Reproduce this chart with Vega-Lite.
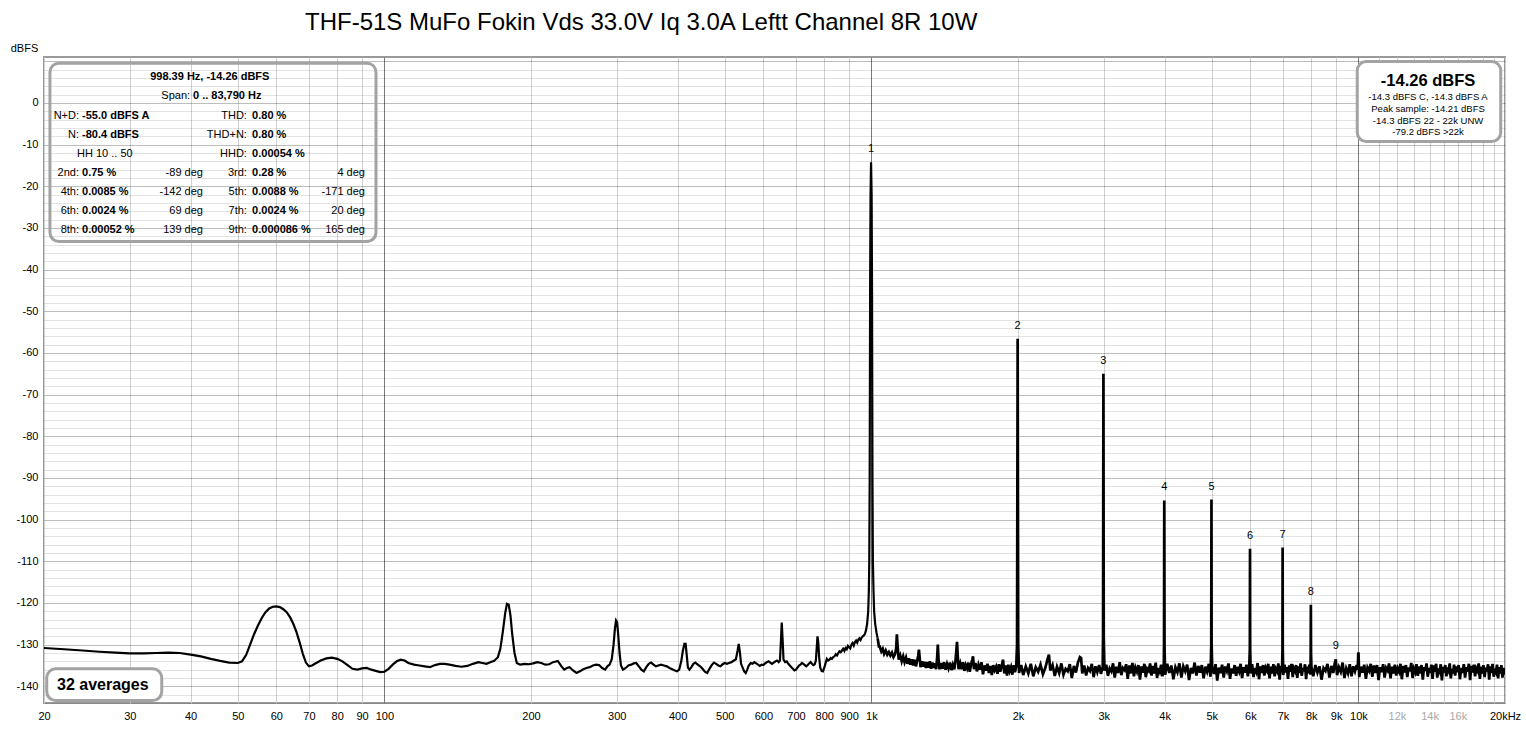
{
"$schema": "https://vega.github.io/schema/vega-lite/v6.json",
"width": 1461, "height": 646,
"autosize": {"type": "none"},
"padding": {"left": 44, "top": 57, "right": 21, "bottom": 26},
"background": "white",
"config": {"font": "Liberation Sans", "view": {"stroke": "#9a9a9a", "strokeWidth": 2}},
"title": {"text": "THF-51S MuFo Fokin Vds 33.0V Iq 3.0A Leftt Channel 8R 10W", "anchor": "start", "frame": "group", "dx": 261, "fontSize": 24, "fontWeight": "normal", "color": "#000000", "font": "Liberation Sans", "offset": 7},
"datasets": {
"spec": [
{"f":20,"d":-130.8},{"f":22,"d":-131.1},{"f":24,"d":-131.4},{"f":26,"d":-131.7},{"f":28,"d":-131.9},{"f":30,"d":-132.1},{"f":32,"d":-132.1},{"f":34,"d":-132.0},{"f":36,"d":-131.9},{"f":38,"d":-132.0},{"f":40,"d":-132.4},{"f":42,"d":-132.8},{"f":44,"d":-133.4},{"f":46,"d":-133.9},{"f":48,"d":-134.3},{"f":50,"d":-134.4},{"f":51,"d":-134.0},{"f":52,"d":-132.5},{"f":53,"d":-130.0},{"f":54,"d":-127.5},{"f":55,"d":-125.4},{"f":56,"d":-123.6},{"f":57,"d":-122.2},{"f":58,"d":-121.3},{"f":59,"d":-120.9},{"f":60,"d":-120.8},{"f":61,"d":-121.0},{"f":62,"d":-121.5},{"f":63,"d":-122.2},{"f":64,"d":-123.4},{"f":65,"d":-125.0},{"f":66,"d":-127.0},{"f":67,"d":-129.5},{"f":68,"d":-132.2},{"f":69,"d":-134.3},{"f":70,"d":-135.2},{"f":71,"d":-135.0},{"f":72,"d":-134.6},{"f":74,"d":-133.8},{"f":76,"d":-133.3},{"f":78,"d":-133.1},{"f":80,"d":-133.4},{"f":82,"d":-134.0},{"f":84,"d":-134.9},{"f":86,"d":-135.8},{"f":88,"d":-136.0},{"f":90,"d":-135.7},{"f":92,"d":-135.6},{"f":94,"d":-136.0},{"f":96,"d":-136.3},{"f":98,"d":-136.6},{"f":100,"d":-136.5},{"f":102,"d":-135.8},{"f":104,"d":-134.8},{"f":106,"d":-134.0},{"f":108,"d":-133.6},{"f":110,"d":-133.8},{"f":112,"d":-134.4},{"f":115,"d":-134.8},{"f":118,"d":-135.0},{"f":121,"d":-135.2},{"f":124,"d":-135.4},{"f":127,"d":-134.9},{"f":130,"d":-134.6},{"f":133,"d":-134.6},{"f":136,"d":-134.8},{"f":140,"d":-135.1},{"f":144,"d":-135.3},{"f":148,"d":-135.1},{"f":152,"d":-134.6},{"f":156,"d":-134.2},{"f":159,"d":-134.4},{"f":162,"d":-134.6},{"f":165,"d":-134.2},{"f":168,"d":-133.9},{"f":171,"d":-133.0},{"f":173,"d":-131.0},{"f":175,"d":-127.0},{"f":177,"d":-122.5},{"f":178.5,"d":-120.2},{"f":180,"d":-120.4},{"f":181.5,"d":-123.0},{"f":183,"d":-127.5},{"f":185,"d":-132.0},{"f":187,"d":-134.4},{"f":190,"d":-134.8},{"f":194,"d":-134.6},{"f":198,"d":-134.7},{"f":202,"d":-134.5},{"f":206,"d":-134.2},{"f":210,"d":-134.4},{"f":214,"d":-134.8},{"f":218,"d":-134.7},{"f":222,"d":-134.2},{"f":227,"d":-133.9},{"f":231,"d":-135.2},{"f":234,"d":-136.0},{"f":237,"d":-135.6},{"f":240,"d":-135.4},{"f":244,"d":-136.2},{"f":248,"d":-136.8},{"f":252,"d":-136.4},{"f":256,"d":-135.9},{"f":260,"d":-135.6},{"f":264,"d":-135.4},{"f":268,"d":-135.0},{"f":272,"d":-134.8},{"f":276,"d":-134.9},{"f":280,"d":-135.6},{"f":284,"d":-136.0},{"f":287,"d":-135.2},{"f":290,"d":-134.8},{"f":293,"d":-133.5},{"f":295.5,"d":-130.0},{"f":297.5,"d":-126.0},{"f":299,"d":-124.2},{"f":300.5,"d":-124.6},{"f":302,"d":-127.5},{"f":304,"d":-132.0},{"f":306,"d":-135.0},{"f":309,"d":-136.0},{"f":313,"d":-135.6},{"f":317,"d":-135.0},{"f":321,"d":-134.8},{"f":325,"d":-134.5},{"f":329,"d":-134.4},{"f":333,"d":-135.2},{"f":337,"d":-136.0},{"f":341,"d":-136.4},{"f":345,"d":-135.4},{"f":349,"d":-134.6},{"f":353,"d":-134.3},{"f":357,"d":-134.8},{"f":361,"d":-135.2},{"f":365,"d":-135.0},{"f":370,"d":-134.8},{"f":375,"d":-135.0},{"f":380,"d":-135.2},{"f":385,"d":-135.6},{"f":390,"d":-135.9},{"f":395,"d":-136.2},{"f":399,"d":-136.4},{"f":403,"d":-136.0},{"f":407,"d":-134.0},{"f":410,"d":-131.5},{"f":413,"d":-129.8},{"f":415.5,"d":-129.8},{"f":418,"d":-133.0},{"f":420,"d":-135.5},{"f":423,"d":-136.0},{"f":427,"d":-135.4},{"f":431,"d":-134.6},{"f":435,"d":-134.3},{"f":440,"d":-134.8},{"f":445,"d":-135.2},{"f":450,"d":-135.8},{"f":455,"d":-136.5},{"f":460,"d":-136.8},{"f":465,"d":-135.8},{"f":470,"d":-134.9},{"f":475,"d":-134.3},{"f":480,"d":-134.6},{"f":485,"d":-135.0},{"f":490,"d":-135.2},{"f":495,"d":-134.7},{"f":500,"d":-134.4},{"f":505,"d":-134.6},{"f":510,"d":-134.4},{"f":516,"d":-134.2},{"f":522,"d":-133.8},{"f":527,"d":-133.5},{"f":531,"d":-131.5},{"f":534,"d":-129.8},{"f":537,"d":-131.8},{"f":540,"d":-134.6},{"f":544,"d":-135.5},{"f":548,"d":-136.4},{"f":552,"d":-136.8},{"f":556,"d":-136.0},{"f":560,"d":-135.0},{"f":565,"d":-134.4},{"f":570,"d":-134.6},{"f":575,"d":-134.2},{"f":580,"d":-134.5},{"f":585,"d":-134.8},{"f":590,"d":-135.1},{"f":595,"d":-134.8},{"f":600,"d":-134.9},{"f":605,"d":-134.5},{"f":610,"d":-134.2},{"f":615,"d":-134.0},{"f":620,"d":-134.3},{"f":625,"d":-134.6},{"f":630,"d":-134.3},{"f":635,"d":-134.0},{"f":640,"d":-133.8},{"f":645,"d":-134.2},{"f":649,"d":-133.8},{"f":652,"d":-129.0},{"f":654.5,"d":-124.7},{"f":657,"d":-128.5},{"f":660,"d":-133.6},{"f":665,"d":-134.2},{"f":670,"d":-134.0},{"f":675,"d":-134.6},{"f":680,"d":-135.0},{"f":685,"d":-135.4},{"f":690,"d":-135.8},{"f":695,"d":-136.2},{"f":700,"d":-136.0},{"f":705,"d":-135.5},{"f":710,"d":-135.0},{"f":715,"d":-134.8},{"f":720,"d":-134.4},{"f":725,"d":-134.6},{"f":730,"d":-134.9},{"f":735,"d":-135.2},{"f":740,"d":-134.9},{"f":745,"d":-134.5},{"f":750,"d":-134.2},{"f":755,"d":-134.6},{"f":760,"d":-134.9},{"f":765,"d":-134.7},{"f":769,"d":-133.8},{"f":772,"d":-131.0},{"f":775,"d":-128.0},{"f":778,"d":-129.5},{"f":781,"d":-133.0},{"f":785,"d":-135.5},{"f":790,"d":-136.3},{"f":795,"d":-136.4},{"f":800,"d":-135.6},{"f":805,"d":-134.5},{"f":810,"d":-133.4},{"f":815,"d":-133.8},{"f":820,"d":-133.6},{"f":825,"d":-133.2},{"f":830,"d":-133.4},{"f":835,"d":-133.0},{"f":840,"d":-132.8},{"f":845,"d":-132.3},{"f":850,"d":-132.6},{"f":855,"d":-132.0},{"f":860,"d":-131.6},{"f":865,"d":-131.8},{"f":870,"d":-131.4},{"f":875,"d":-131.0},{"f":880,"d":-131.5},{"f":885,"d":-130.8},{"f":890,"d":-131.1},{"f":895,"d":-130.3},{"f":900,"d":-130.6},{"f":905,"d":-130.9},{"f":910,"d":-130.0},{"f":915,"d":-129.6},{"f":920,"d":-130.2},{"f":925,"d":-129.4},{"f":930,"d":-129.0},{"f":935,"d":-129.5},{"f":940,"d":-128.8},{"f":945,"d":-128.5},{"f":950,"d":-128.9},{"f":955,"d":-128.3},{"f":960,"d":-128.0},{"f":965,"d":-127.8},{"f":970,"d":-127.4},{"f":975,"d":-126.5},{"f":980,"d":-125.0},{"f":985,"d":-122.0},{"f":988,"d":-117.0},{"f":990,"d":-110.0},{"f":992,"d":-90.0},{"f":994,"d":-45.0},{"f":996,"d":-22.0},{"f":998.39,"d":-14.26},{"f":1001,"d":-22.0},{"f":1003,"d":-45.0},{"f":1005,"d":-90.0},{"f":1007,"d":-110.0},{"f":1010,"d":-117.0},{"f":1013,"d":-122.0},{"f":1018,"d":-125.0},{"f":1024,"d":-127.0},{"f":1030,"d":-128.5},
{"f":1036,"d":-130.4},{"f":1040,"d":-130.4},{"f":1048,"d":-131.6},{"f":1055,"d":-131.0},{"f":1062,"d":-132.2},{"f":1070,"d":-131.4},{"f":1078,"d":-132.4},{"f":1086,"d":-131.8},{"f":1094,"d":-132.6},{"f":1102,"d":-131.9},{"f":1110,"d":-133.0},{"f":1118,"d":-132.3},{"f":1124,"d":-131.0},{"f":1128,"d":-127.5},{"f":1132,"d":-130.5},{"f":1138,"d":-133.6},{"f":1146,"d":-132.6},{"f":1154,"d":-134.0},{"f":1162,"d":-132.8},{"f":1170,"d":-134.2},{"f":1178,"d":-133.1},{"f":1186,"d":-134.6},{"f":1194,"d":-133.3},{"f":1202,"d":-134.8},{"f":1210,"d":-133.5},{"f":1218,"d":-135.0},{"f":1226,"d":-133.6},{"f":1234,"d":-135.2},{"f":1242,"d":-133.8},{"f":1248,"d":-132.6},{"f":1252,"d":-131.2},{"f":1256,"d":-133.0},{"f":1262,"d":-135.4},{"f":1270,"d":-134.0},{"f":1278,"d":-135.3},{"f":1286,"d":-134.1},{"f":1294,"d":-135.6},{"f":1302,"d":-134.2},{"f":1310,"d":-135.5},{"f":1318,"d":-134.0},{"f":1326,"d":-135.8},{"f":1334,"d":-134.3},{"f":1342,"d":-135.6},{"f":1350,"d":-134.5},{"f":1358,"d":-135.9},{"f":1364,"d":-133.5},{"f":1369,"d":-130.0},{"f":1374,"d":-133.8},{"f":1380,"d":-135.9},{"f":1390,"d":-134.4},{"f":1400,"d":-135.8},{"f":1410,"d":-134.2},{"f":1420,"d":-136.0},{"f":1430,"d":-134.6},{"f":1440,"d":-135.7},{"f":1450,"d":-134.3},{"f":1460,"d":-136.1},{"f":1470,"d":-134.8},{"f":1480,"d":-135.9},{"f":1488,"d":-134.0},{"f":1494,"d":-131.5},{"f":1499,"d":-129.3},{"f":1504,"d":-132.5},{"f":1510,"d":-135.9},
{"f":1522,"d":-134.5},{"f":1532,"d":-135.9},{"f":1542,"d":-134.2},{"f":1552,"d":-136.3},{"f":1562,"d":-134.9},{"f":1572,"d":-135.7},{"f":1582,"d":-134.3},{"f":1592,"d":-136.5},{"f":1602,"d":-134.7},{"f":1612,"d":-133.5},{"f":1617,"d":-132.8},{"f":1624,"d":-135.9},{"f":1635,"d":-134.4},{"f":1647,"d":-136.4},{"f":1659,"d":-134.8},{"f":1671,"d":-136.0},{"f":1683,"d":-134.2},{"f":1695,"d":-137.1},{"f":1707,"d":-135.0},{"f":1719,"d":-136.2},{"f":1731,"d":-134.6},{"f":1743,"d":-136.8},{"f":1755,"d":-135.1},{"f":1767,"d":-137.3},{"f":1779,"d":-134.9},{"f":1791,"d":-136.1},{"f":1803,"d":-135.3},{"f":1815,"d":-137.0},{"f":1827,"d":-134.7},{"f":1839,"d":-136.5},{"f":1851,"d":-135.2},{"f":1863,"d":-133.6},{"f":1875,"d":-136.9},{"f":1887,"d":-135.0},{"f":1899,"d":-137.4},{"f":1911,"d":-134.8},{"f":1923,"d":-136.3},{"f":1935,"d":-135.4},{"f":1947,"d":-137.2},{"f":1959,"d":-134.9},{"f":1971,"d":-136.6},{"f":1983,"d":-135.3},{"f":1991,"d":-130.0},{"f":1996.8,"d":-56.6},{"f":2002,"d":-130.0},
{"f":2010,"d":-136.8},{"f":2030,"d":-134.9},{"f":2050,"d":-137.3},{"f":2075,"d":-135.2},{"f":2100,"d":-136.9},{"f":2125,"d":-134.6},{"f":2150,"d":-137.6},{"f":2175,"d":-135.4},{"f":2200,"d":-136.5},{"f":2225,"d":-134.8},{"f":2250,"d":-137.1},{"f":2275,"d":-135.6},{"f":2300,"d":-133.5},{"f":2315,"d":-132.4},{"f":2330,"d":-136.2},{"f":2355,"d":-134.9},{"f":2380,"d":-137.5},{"f":2405,"d":-135.3},{"f":2430,"d":-136.8},{"f":2455,"d":-134.5},{"f":2480,"d":-137.2},{"f":2505,"d":-135.8},{"f":2530,"d":-136.4},{"f":2555,"d":-134.7},{"f":2580,"d":-138.0},{"f":2605,"d":-135.1},{"f":2630,"d":-136.7},{"f":2655,"d":-134.3},{"f":2680,"d":-133.0},{"f":2695,"d":-133.2},{"f":2710,"d":-136.9},{"f":2735,"d":-135.0},{"f":2760,"d":-137.4},{"f":2785,"d":-135.6},{"f":2810,"d":-136.3},{"f":2835,"d":-134.6},{"f":2860,"d":-137.8},{"f":2885,"d":-135.2},{"f":2910,"d":-136.6},{"f":2935,"d":-134.9},{"f":2960,"d":-137.0},{"f":2985,"d":-135.4},{"f":2990,"d":-128.0},{"f":2995.2,"d":-65.0},{"f":3000,"d":-128.0},
{"f":3010,"d":-136.2},{"f":3035,"d":-134.8},{"f":3060,"d":-137.5},{"f":3085,"d":-135.7},{"f":3110,"d":-136.4},{"f":3135,"d":-134.5},{"f":3160,"d":-137.9},{"f":3185,"d":-135.3},{"f":3210,"d":-136.8},{"f":3235,"d":-134.2},{"f":3260,"d":-137.3},{"f":3285,"d":-135.6},{"f":3310,"d":-136.1},{"f":3335,"d":-134.7},{"f":3360,"d":-138.2},{"f":3385,"d":-135.0},{"f":3410,"d":-136.9},{"f":3435,"d":-134.4},{"f":3460,"d":-137.6},{"f":3485,"d":-135.5},{"f":3510,"d":-136.5},{"f":3535,"d":-134.9},{"f":3560,"d":-138.4},{"f":3585,"d":-135.2},{"f":3610,"d":-136.7},{"f":3635,"d":-134.6},{"f":3660,"d":-137.8},{"f":3685,"d":-135.8},{"f":3710,"d":-136.3},{"f":3735,"d":-134.5},{"f":3760,"d":-137.4},{"f":3785,"d":-135.1},{"f":3810,"d":-136.9},{"f":3835,"d":-134.3},{"f":3860,"d":-138.0},{"f":3885,"d":-135.6},{"f":3910,"d":-136.5},{"f":3935,"d":-134.8},{"f":3960,"d":-137.6},{"f":3985,"d":-135.0},{"f":3989,"d":-130.0},{"f":3993.6,"d":-95.4},{"f":3998,"d":-130.0},
{"f":4010,"d":-137.2},{"f":4050,"d":-134.6},{"f":4090,"d":-136.8},{"f":4130,"d":-135.0},{"f":4170,"d":-138.3},{"f":4210,"d":-135.4},{"f":4250,"d":-136.6},{"f":4290,"d":-134.5},{"f":4330,"d":-137.9},{"f":4370,"d":-135.2},{"f":4410,"d":-136.4},{"f":4450,"d":-134.8},{"f":4490,"d":-138.5},{"f":4530,"d":-135.6},{"f":4570,"d":-136.9},{"f":4610,"d":-134.3},{"f":4650,"d":-137.4},{"f":4690,"d":-135.1},{"f":4730,"d":-136.7},{"f":4770,"d":-134.9},{"f":4810,"d":-138.1},{"f":4850,"d":-135.3},{"f":4890,"d":-136.5},{"f":4930,"d":-134.6},{"f":4970,"d":-137.7},{"f":4987,"d":-130.0},{"f":4991.9,"d":-95.2},{"f":4996,"d":-130.0},
{"f":5010,"d":-135.8},{"f":5050,"d":-137.0},{"f":5090,"d":-134.7},{"f":5130,"d":-138.6},{"f":5170,"d":-135.5},{"f":5210,"d":-136.8},{"f":5250,"d":-134.8},{"f":5290,"d":-137.9},{"f":5330,"d":-135.2},{"f":5370,"d":-136.3},{"f":5410,"d":-134.5},{"f":5450,"d":-138.2},{"f":5490,"d":-135.7},{"f":5530,"d":-136.9},{"f":5570,"d":-134.9},{"f":5610,"d":-137.5},{"f":5650,"d":-135.3},{"f":5690,"d":-136.4},{"f":5730,"d":-134.6},{"f":5770,"d":-138.0},{"f":5810,"d":-135.4},{"f":5850,"d":-136.7},{"f":5890,"d":-134.8},{"f":5930,"d":-137.6},{"f":5970,"d":-135.0},{"f":5985,"d":-131.0},{"f":5990.3,"d":-107.0},{"f":5995,"d":-131.0},
{"f":6010,"d":-136.9},{"f":6050,"d":-134.7},{"f":6090,"d":-137.8},{"f":6130,"d":-135.6},{"f":6170,"d":-136.5},{"f":6210,"d":-134.4},{"f":6250,"d":-138.3},{"f":6290,"d":-135.2},{"f":6330,"d":-136.8},{"f":6370,"d":-134.9},{"f":6410,"d":-137.4},{"f":6450,"d":-135.5},{"f":6490,"d":-136.2},{"f":6530,"d":-134.6},{"f":6570,"d":-138.1},{"f":6610,"d":-135.3},{"f":6650,"d":-136.9},{"f":6690,"d":-134.7},{"f":6730,"d":-137.6},{"f":6770,"d":-135.8},{"f":6810,"d":-136.4},{"f":6850,"d":-134.5},{"f":6890,"d":-138.4},{"f":6930,"d":-135.1},{"f":6970,"d":-136.6},{"f":6983,"d":-131.0},{"f":6988.7,"d":-106.7},{"f":6994,"d":-131.0},
{"f":7010,"d":-137.3},{"f":7050,"d":-134.8},{"f":7090,"d":-136.7},{"f":7130,"d":-135.4},{"f":7170,"d":-138.2},{"f":7210,"d":-135.0},{"f":7250,"d":-136.5},{"f":7290,"d":-134.6},{"f":7330,"d":-137.8},{"f":7370,"d":-135.7},{"f":7410,"d":-136.3},{"f":7450,"d":-134.9},{"f":7490,"d":-138.0},{"f":7530,"d":-135.2},{"f":7570,"d":-136.8},{"f":7610,"d":-134.5},{"f":7650,"d":-137.5},{"f":7690,"d":-135.6},{"f":7730,"d":-136.4},{"f":7770,"d":-134.7},{"f":7810,"d":-138.3},{"f":7850,"d":-135.3},{"f":7890,"d":-136.9},{"f":7930,"d":-134.8},{"f":7970,"d":-137.2},{"f":7981,"d":-132.0},{"f":7987.1,"d":-120.4},{"f":7993,"d":-132.0},
{"f":8010,"d":-135.5},{"f":8080,"d":-137.6},{"f":8160,"d":-134.9},{"f":8240,"d":-136.7},{"f":8320,"d":-135.2},{"f":8400,"d":-138.4},{"f":8480,"d":-135.6},{"f":8560,"d":-136.3},{"f":8640,"d":-134.6},{"f":8720,"d":-137.9},{"f":8800,"d":-135.1},{"f":8880,"d":-136.8},{"f":8940,"d":-134.5},{"f":8985.5,"d":-133.5},{"f":9040,"d":-137.3},{"f":9120,"d":-135.4},{"f":9200,"d":-136.5},{"f":9280,"d":-134.3},{"f":9360,"d":-138.0},{"f":9440,"d":-135.7},{"f":9520,"d":-136.9},{"f":9600,"d":-134.7},{"f":9680,"d":-137.6},{"f":9760,"d":-135.2},{"f":9840,"d":-136.4},{"f":9920,"d":-134.9},{"f":9970,"d":-136.0},{"f":9995,"d":-132.0},{"f":10000,"d":-131.9},{"f":10005,"d":-132.0},
{"f":10040,"d":-137.8},{"f":10120,"d":-135.3},{"f":10200,"d":-136.7},{"f":10280,"d":-134.8},{"f":10360,"d":-138.2},{"f":10440,"d":-135.5},{"f":10520,"d":-136.3},{"f":10600,"d":-134.6},{"f":10680,"d":-137.7},{"f":10760,"d":-135.0},{"f":10840,"d":-136.8},{"f":10920,"d":-134.9},{"f":11000,"d":-138.5},{"f":11080,"d":-135.4},{"f":11160,"d":-136.6},{"f":11240,"d":-134.7},{"f":11320,"d":-137.9},{"f":11400,"d":-135.6},{"f":11480,"d":-136.2},{"f":11560,"d":-134.5},{"f":11640,"d":-138.1},{"f":11720,"d":-135.3},{"f":11800,"d":-136.9},{"f":11880,"d":-134.8},{"f":11960,"d":-137.4},{"f":12040,"d":-135.7},{"f":12120,"d":-136.5},{"f":12200,"d":-134.6},{"f":12280,"d":-138.3},{"f":12360,"d":-135.1},{"f":12440,"d":-136.7},{"f":12520,"d":-134.9},{"f":12600,"d":-137.8},{"f":12680,"d":-135.5},{"f":12760,"d":-136.4},{"f":12840,"d":-134.4},{"f":12920,"d":-138.0},{"f":13000,"d":-135.8},{"f":13080,"d":-136.6},{"f":13160,"d":-134.7},{"f":13240,"d":-137.5},{"f":13320,"d":-135.2},{"f":13400,"d":-136.9},{"f":13480,"d":-134.9},{"f":13560,"d":-138.4},{"f":13640,"d":-135.4},{"f":13720,"d":-136.3},{"f":13800,"d":-134.5},{"f":13880,"d":-137.7},{"f":13960,"d":-135.6},{"f":14040,"d":-136.8},{"f":14120,"d":-134.8},{"f":14200,"d":-138.2},{"f":14280,"d":-135.0},{"f":14360,"d":-136.5},{"f":14440,"d":-134.6},{"f":14520,"d":-137.9},{"f":14600,"d":-135.7},{"f":14680,"d":-136.4},{"f":14760,"d":-134.7},{"f":14840,"d":-138.6},{"f":14920,"d":-135.3},{"f":15000,"d":-136.7},{"f":15080,"d":-134.9},{"f":15160,"d":-137.6},{"f":15240,"d":-135.5},{"f":15320,"d":-136.2},{"f":15400,"d":-134.5},{"f":15480,"d":-138.1},{"f":15560,"d":-135.8},{"f":15640,"d":-136.9},{"f":15720,"d":-134.8},{"f":15800,"d":-137.4},{"f":15880,"d":-135.2},{"f":15960,"d":-136.6},
{"f":16060,"d":-134.9},{"f":16160,"d":-138.3},{"f":16260,"d":-135.6},{"f":16360,"d":-136.8},{"f":16460,"d":-134.7},{"f":16560,"d":-137.9},{"f":16660,"d":-135.4},{"f":16760,"d":-136.5},{"f":16860,"d":-134.6},{"f":16960,"d":-138.5},{"f":17060,"d":-135.1},{"f":17160,"d":-136.7},{"f":17260,"d":-134.8},{"f":17360,"d":-137.6},{"f":17460,"d":-135.7},{"f":17560,"d":-136.3},{"f":17660,"d":-134.5},{"f":17760,"d":-138.2},{"f":17860,"d":-135.3},{"f":17960,"d":-136.9},{"f":18060,"d":-134.9},{"f":18160,"d":-137.8},{"f":18260,"d":-135.5},{"f":18360,"d":-136.4},{"f":18460,"d":-134.7},{"f":18560,"d":-138.4},{"f":18660,"d":-135.2},{"f":18760,"d":-136.8},{"f":18860,"d":-134.6},{"f":18960,"d":-137.7},{"f":19060,"d":-135.8},{"f":19160,"d":-136.5},{"f":19260,"d":-134.8},{"f":19360,"d":-138.1},{"f":19460,"d":-135.4},{"f":19560,"d":-136.9},{"f":19660,"d":-134.9},{"f":19760,"d":-137.9},{"f":19860,"d":-135.6},{"f":19960,"d":-137.2},{"f":20000,"d":-136.0}
],
"hl": [
{"f":998.39,"d":-14.26,"t":"1"},{"f":1996.8,"d":-56.6,"t":"2"},{"f":2995.2,"d":-65.0,"t":"3"},{"f":3993.6,"d":-95.4,"t":"4"},{"f":4991.9,"d":-95.2,"t":"5"},{"f":5990.3,"d":-107.0,"t":"6"},{"f":6988.7,"d":-106.7,"t":"7"},{"f":7987.1,"d":-120.4,"t":"8"},{"f":8985.5,"d":-133.5,"t":"9"}
],
"openBox": [{"f":20.57,"f2":96.1,"d":9.52,"d2":-33.26}],
"solidBox": [{"f":9946,"f2":19600,"d":9.9,"d2":-9.28},{"f":20.26,"f2":34.9,"d":-135.8,"d2":-143.4}],
"labR": [
{"f":23.6,"d":-3.12,"t":"N+D:"},{"f":23.6,"d":-7.67,"t":"N:"},{"f":23.6,"d":-16.79,"t":"2nd:"},{"f":23.6,"d":-21.34,"t":"4th:"},{"f":23.6,"d":-25.9,"t":"6th:"},{"f":23.6,"d":-30.46,"t":"8th:"},
{"f":39.9,"d":1.68,"t":"Span:"},
{"f":42.4,"d":-16.79,"t":"-89 deg"},{"f":42.4,"d":-21.34,"t":"-142 deg"},{"f":42.4,"d":-25.9,"t":"69 deg"},{"f":42.4,"d":-30.46,"t":"139 deg"},
{"f":52.2,"d":-3.12,"t":"THD:"},{"f":52.2,"d":-7.67,"t":"THD+N:"},{"f":52.2,"d":-12.23,"t":"HHD:"},{"f":52.2,"d":-16.79,"t":"3rd:"},{"f":52.2,"d":-21.34,"t":"5th:"},{"f":52.2,"d":-25.9,"t":"7th:"},{"f":52.2,"d":-30.46,"t":"9th:"},
{"f":91.2,"d":-16.79,"t":"4 deg"},{"f":91.2,"d":-21.34,"t":"-171 deg"},{"f":91.2,"d":-25.9,"t":"20 deg"},{"f":91.2,"d":-30.46,"t":"165 deg"}
],
"valL": [
{"f":23.94,"d":-3.12,"t":"-55.0 dBFS A"},{"f":23.94,"d":-7.67,"t":"-80.4 dBFS"},{"f":23.94,"d":-16.79,"t":"0.75 %"},{"f":23.94,"d":-21.34,"t":"0.0085 %"},{"f":23.94,"d":-25.9,"t":"0.0024 %"},{"f":23.94,"d":-30.46,"t":"0.00052 %"},
{"f":40.45,"d":1.68,"t":"0 .. 83,790 Hz"},
{"f":53.5,"d":-3.12,"t":"0.80 %"},{"f":53.5,"d":-7.67,"t":"0.80 %"},{"f":53.5,"d":-12.23,"t":"0.00054 %"},{"f":53.5,"d":-16.79,"t":"0.28 %"},{"f":53.5,"d":-21.34,"t":"0.0088 %"},{"f":53.5,"d":-25.9,"t":"0.0024 %"},{"f":53.5,"d":-30.46,"t":"0.000086 %"}
],
"normL": [{"f":23.38,"d":-12.23,"t":"HH 10 .. 50"}],
"boldC": [{"f":43.8,"d":6.24,"t":"998.39 Hz, -14.26 dBFS"}],
"bigC": [{"f":13900,"d":5.28,"t":"-14.26 dBFS"}],
"smallC": [{"f":13900,"d":1.44,"t":"-14.3 dBFS C, -14.3 dBFS A"},{"f":13900,"d":-1.44,"t":"Peak sample: -14.21 dBFS"},{"f":13900,"d":-4.32,"t":"-14.3 dBFS 22 - 22k UNW"},{"f":13900,"d":-6.95,"t":"-79.2 dBFS >22k"}],
"avgL": [{"f":21.27,"d":-139.8,"t":"32 averages"}]
},
"encoding": {
"x": {"field": "f", "type": "quantitative",
 "scale": {"type": "log", "domain": [20, 20000], "nice": false},
 "axis": {"title": null, "values": [20,30,40,50,60,70,80,90,100,200,300,400,500,600,700,800,900,1000,2000,3000,4000,5000,6000,7000,8000,9000,10000,11000,12000,13000,14000,15000,16000,17000,18000,19000,20000],
  "grid": true,
  "gridColor": {"condition": {"test": "datum.value == 100 || datum.value == 1000 || datum.value == 10000", "value": "#7a7a7a"}, "value": "#d0d0d0"},
  "gridWidth": 1, "ticks": false, "domain": false,
  "labelFontSize": 11, "labelFont": "Liberation Sans",
  "labelColor": {"condition": {"test": "datum.value == 12000 || datum.value == 14000 || datum.value == 16000", "value": "#a8a8a8"}, "value": "#000000"},
  "labelPadding": 7, "labelOverlap": false, "labelFlush": false, "labelBound": false,
  "labelExpr": "datum.value == 20000 ? '20kHz' : (indexof([11000,13000,15000,17000,18000,19000], datum.value) >= 0 ? '' : (datum.value >= 1000 ? (datum.value / 1000) + 'k' : '' + datum.value))"}},
"y": {"field": "d", "type": "quantitative",
 "scale": {"domain": [-144, 11], "nice": false, "zero": false},
 "axis": {"title": "dBFS", "titleAngle": 0, "titleX": -20, "titleY": -9, "titleAlign": "center", "titleBaseline": "middle", "titleFontSize": 11, "titleFontWeight": "normal", "titleColor": "#000000", "titleFont": "Liberation Sans",
  "values": [10,8,6,4,2,0,-2,-4,-6,-8,-10,-12,-14,-16,-18,-20,-22,-24,-26,-28,-30,-32,-34,-36,-38,-40,-42,-44,-46,-48,-50,-52,-54,-56,-58,-60,-62,-64,-66,-68,-70,-72,-74,-76,-78,-80,-82,-84,-86,-88,-90,-92,-94,-96,-98,-100,-102,-104,-106,-108,-110,-112,-114,-116,-118,-120,-122,-124,-126,-128,-130,-132,-134,-136,-138,-140,-142,-144],
  "grid": true,
  "gridColor": "#000000",
  "gridOpacity": {"condition": {"test": "datum.value % 10 == 0", "value": 0.26}, "value": 0.11},
  "gridWidth": 1, "ticks": false, "domain": false,
  "labelFontSize": 11, "labelFont": "Liberation Sans", "labelColor": "#000000", "labelPadding": 6, "labelOverlap": false, "labelBound": false,
  "labelExpr": "datum.value % 10 == 0 && datum.value <= 0 ? '' + datum.value : ''"}}
},
"layer": [
{"data": {"name": "spec"}, "transform": [{"filter": "datum.f <= 1030"}], "mark": {"type": "line", "color": "#000000", "strokeWidth": 2.2, "clip": true}},
{"data": {"name": "spec"}, "transform": [{"filter": "datum.f >= 1030"}], "mark": {"type": "line", "color": "#000000", "strokeWidth": 2.7, "clip": true}},
{"data": {"name": "openBox"}, "mark": {"type": "rect", "fill": "#ffffff", "fillOpacity": 0, "stroke": "#a3a3a3", "strokeWidth": 3, "cornerRadius": 9}, "encoding": {"x2": {"field": "f2"}, "y2": {"field": "d2"}}},
{"data": {"name": "solidBox"}, "mark": {"type": "rect", "fill": "#ffffff", "fillOpacity": 1, "stroke": "#a3a3a3", "strokeWidth": 3, "cornerRadius": 9}, "encoding": {"x2": {"field": "f2"}, "y2": {"field": "d2"}}},
{"data": {"name": "hl"}, "mark": {"type": "text", "fontSize": 11, "dy": -13, "align": "center", "baseline": "middle", "color": "#000000"}, "encoding": {"text": {"field": "t", "type": "nominal"}}},
{"data": {"name": "labR"}, "mark": {"type": "text", "fontSize": 11, "align": "right", "baseline": "middle", "color": "#000000"}, "encoding": {"text": {"field": "t", "type": "nominal"}}},
{"data": {"name": "valL"}, "mark": {"type": "text", "fontSize": 11, "fontWeight": "bold", "align": "left", "baseline": "middle", "color": "#000000"}, "encoding": {"text": {"field": "t", "type": "nominal"}}},
{"data": {"name": "normL"}, "mark": {"type": "text", "fontSize": 11, "align": "left", "baseline": "middle", "color": "#000000"}, "encoding": {"text": {"field": "t", "type": "nominal"}}},
{"data": {"name": "boldC"}, "mark": {"type": "text", "fontSize": 11, "fontWeight": "bold", "align": "center", "baseline": "middle", "color": "#000000"}, "encoding": {"text": {"field": "t", "type": "nominal"}}},
{"data": {"name": "bigC"}, "mark": {"type": "text", "fontSize": 16.5, "fontWeight": "bold", "align": "center", "baseline": "middle", "color": "#000000"}, "encoding": {"text": {"field": "t", "type": "nominal"}}},
{"data": {"name": "smallC"}, "mark": {"type": "text", "fontSize": 9.5, "align": "center", "baseline": "middle", "color": "#000000"}, "encoding": {"text": {"field": "t", "type": "nominal"}}},
{"data": {"name": "avgL"}, "mark": {"type": "text", "fontSize": 16, "fontWeight": "bold", "align": "left", "baseline": "middle", "color": "#000000"}, "encoding": {"text": {"field": "t", "type": "nominal"}}}
]
}
